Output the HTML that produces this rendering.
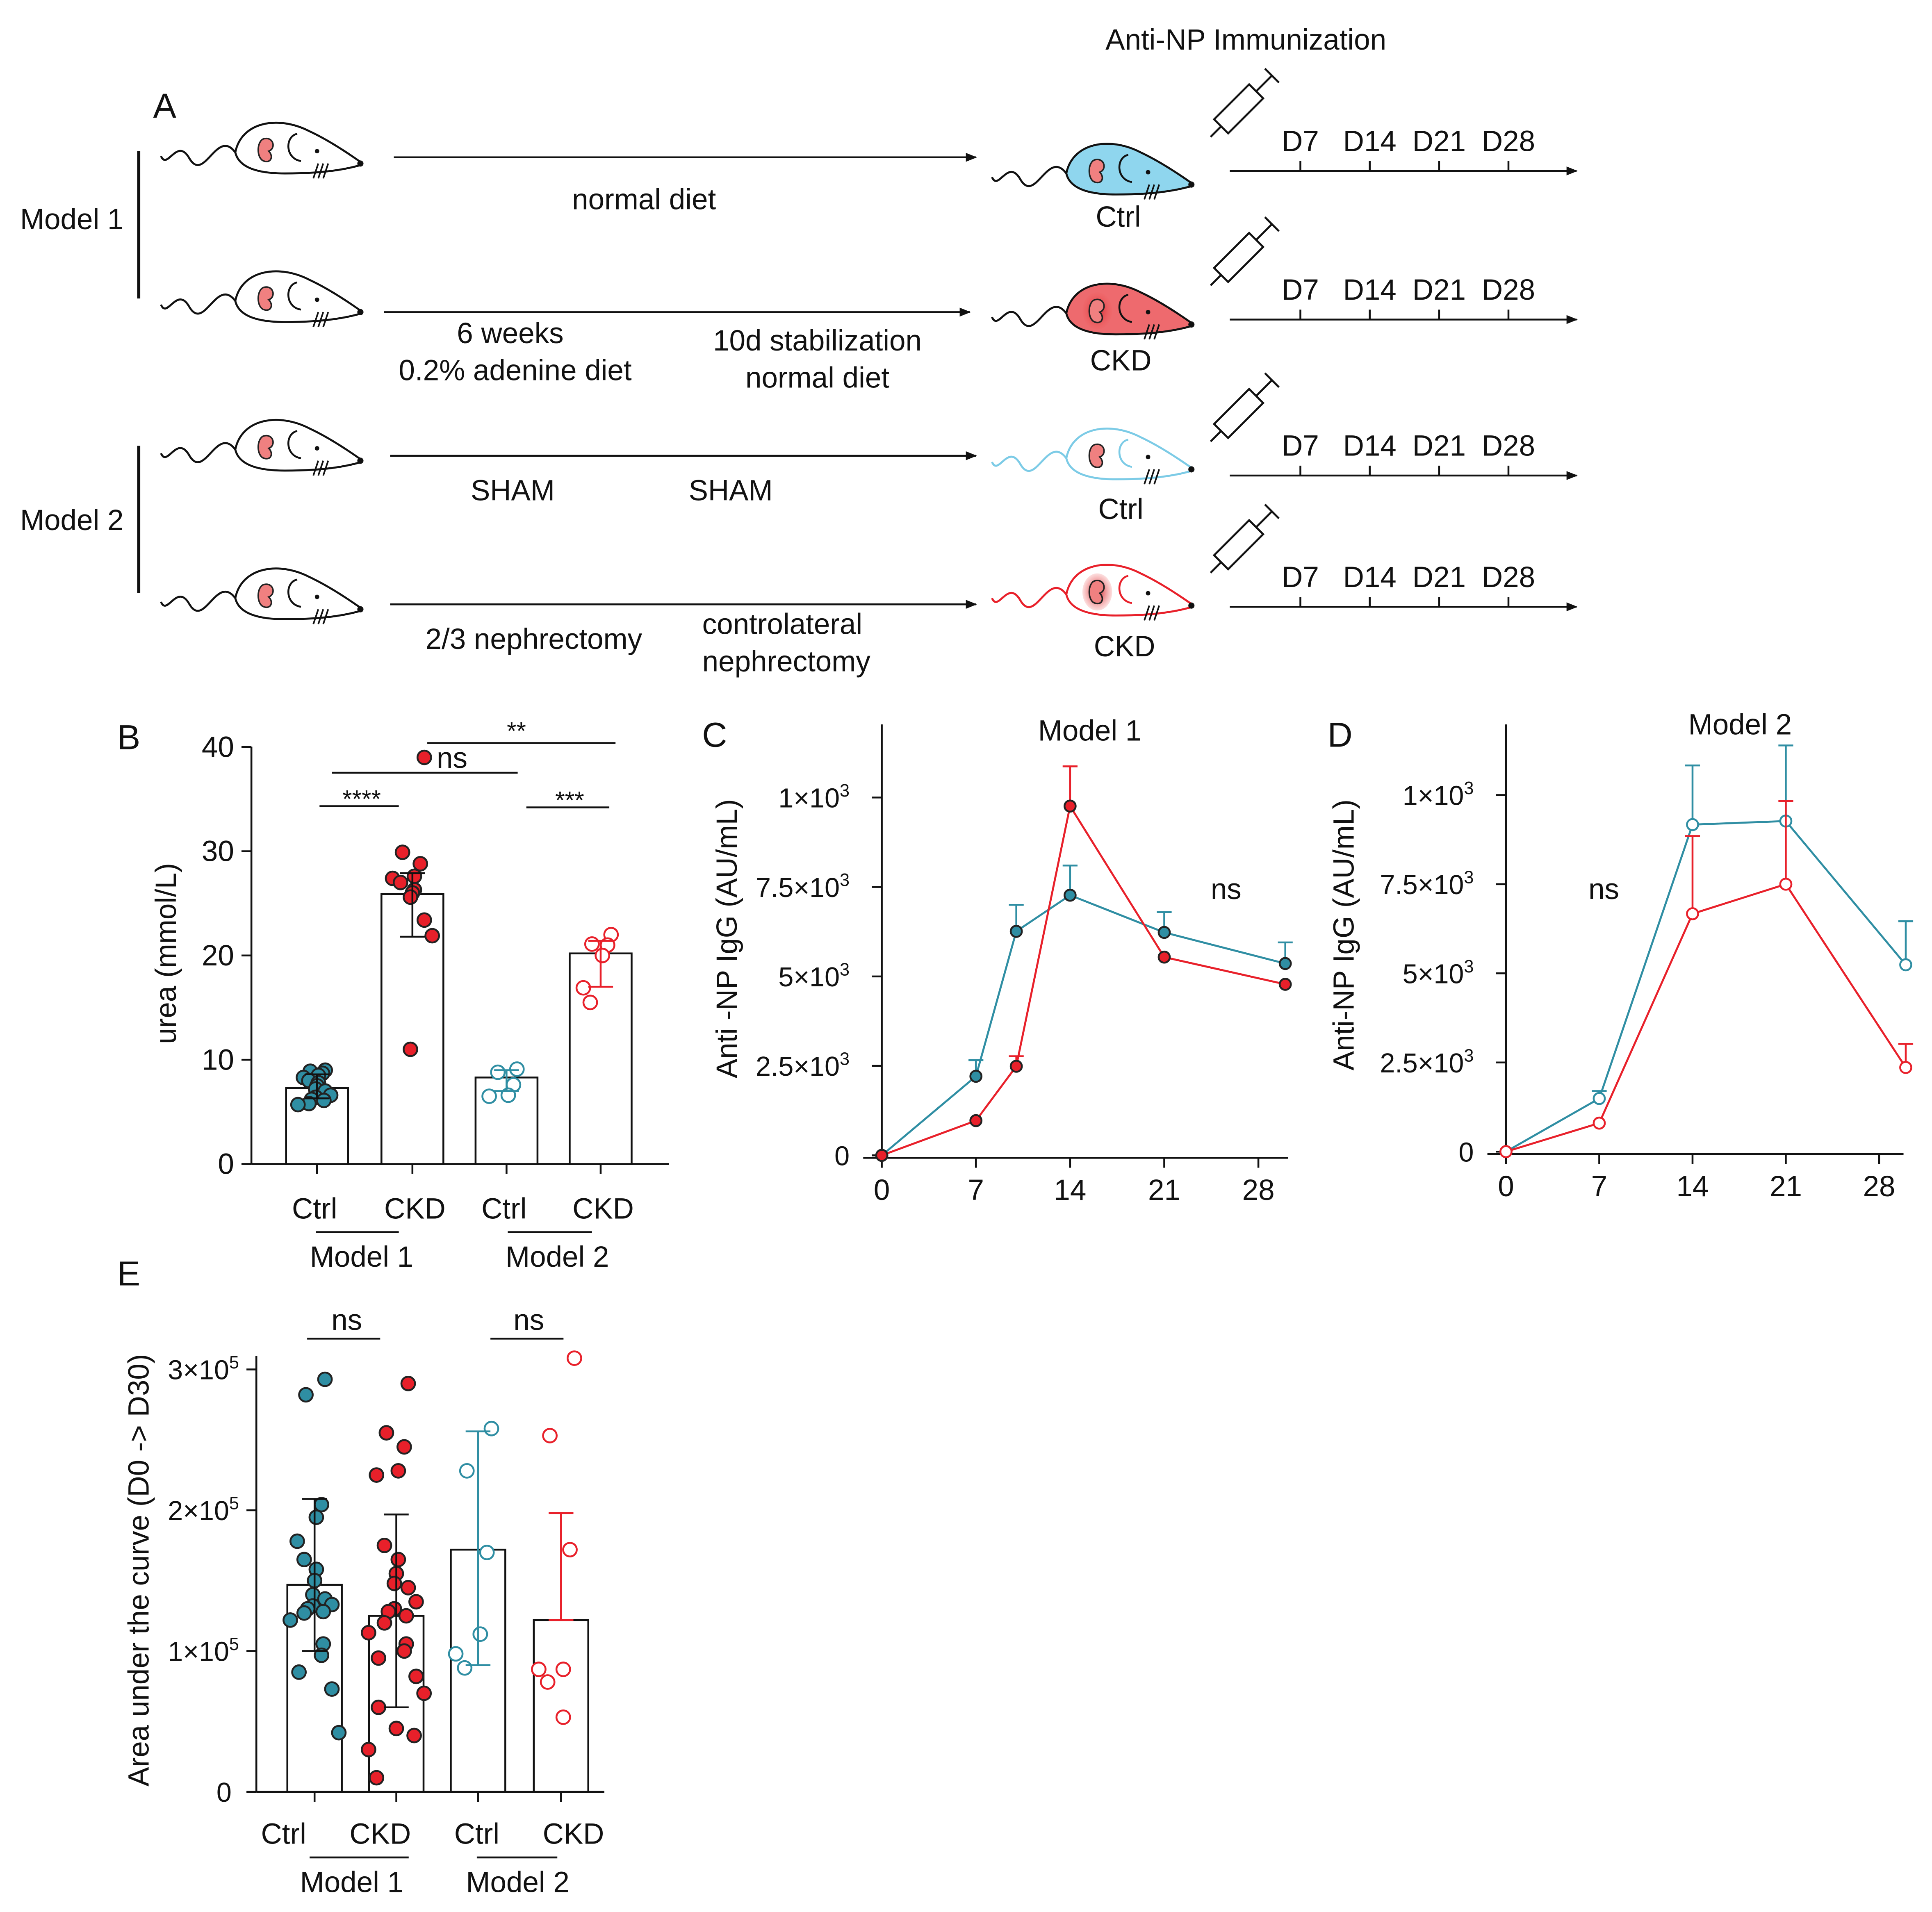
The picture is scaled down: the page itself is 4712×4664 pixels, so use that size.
<!DOCTYPE html>
<html><head><meta charset="utf-8">
<style>
html,body{margin:0;padding:0;background:#fff;}
svg{display:block;}
text{font-family:"Liberation Sans",Arial,sans-serif;fill:#111;}
</style></head>
<body>
<svg id="fig" width="4712" height="4664" viewBox="0 0 1560 1544" xmlns="http://www.w3.org/2000/svg">
<defs>
<marker id="arr" viewBox="0 0 10 10" refX="9" refY="5" markerWidth="9" markerHeight="9" orient="auto" markerUnits="userSpaceOnUse"><path d="M0,1 L10,5 L0,9 z" fill="#111"/></marker>
<radialGradient id="glow"><stop offset="0" stop-color="#d0202a"/><stop offset="1" stop-color="#f06060" stop-opacity="0.2"/></radialGradient>
</defs>
<g id="panelA"></g>
<g id="panelB"></g>
<g id="panelC"></g>
<g id="panelD"></g>
<g id="panelE"></g>
</svg>
<script>
// ===== Panel B data (urea mmol/L) =====
const bCats = ["Ctrl","CKD","Ctrl","CKD"];
const bMeans = [7.3, 25.9, 8.3, 20.2];
const bErrHi = [8.6, 27.9, 9.0, 21.4];
const bErrLo = [6.3, 21.8, 7.0, 17.0];
const bCtrl1 = [9.0,8.9,8.7,8.5,8.3,8.0,7.8,7.5,7.2,7.0,6.6,6.4,6.2,6.1,5.8,5.7];
const bCkd1 = [39,29.9,28.8,27.6,27.4,27.0,26.3,26.0,25.6,23.4,21.9,11.0];
const bCtrl2 = [9.1,8.8,7.6,6.6,6.5];
const bCkd2 = [22.0,21.1,21.0,20.0,16.9,15.5];
const bTicks = [0,10,20,30,40];
// ===== Panel C data (Model 1 anti-NP IgG, scaled so 1 = top tick) =====
const cDays = [0,7,10,14,21,30];
const cCtrl = [0,0.221,0.626,0.727,0.623,0.536];
const cCtrlErr = [0,0.266,0.70,0.81,0.68,0.595];
const cCkd = [0,0.097,0.249,0.976,0.554,0.478];
const cCkdErr = [0,0.097,0.277,1.087,0.554,0.478];
// ===== Panel D data (Model 2) =====
const dDays = [0,7,14,21,30];
const dCtrl = [0,0.149,0.917,0.927,0.524];
const dCtrlErr = [0,0.17,1.083,1.139,0.646];
const dCkd = [0,0.08,0.667,0.75,0.236];
const dCkdErr = [0,0.08,0.885,0.983,0.302];
const lineTickVals = [0,0.25,0.5,0.75,1];
const lineTickLabels = ["0","2.5×10³","5×10³","7.5×10³","1×10³"];
const dayTicks = [0,7,14,21,28];
// ===== Panel E data (AUC, ×1e5) =====
const eMeans = [1.47,1.25,1.72,1.22];
const eErrHi = [2.08,1.97,2.56,1.98];
const eErrLo = [1.0,0.6,0.9,1.22];
const eCtrl1 = [2.93,2.82,2.04,1.95,1.78,1.65,1.58,1.50,1.40,1.37,1.33,1.32,1.30,1.28,1.27,1.22,1.05,0.97,0.85,0.73,0.42];
const eCkd1 = [2.90,2.55,2.45,2.28,2.25,1.75,1.65,1.55,1.48,1.45,1.35,1.30,1.28,1.25,1.20,1.13,1.05,1.00,0.95,0.82,0.70,0.60,0.45,0.40,0.30,0.10];
const eCtrl2 = [2.58,2.28,1.70,1.12,0.98,0.88,1.12];
const eCkd2 = [3.08,2.53,1.72,0.87,0.87,0.78,0.53];
const eTicks = [0,1,2,3];

const NS="http://www.w3.org/2000/svg";
const TEAL="#2f8ea3", RED="#e8202a";
const FS=23.5;
function mk(tag,attrs,parent){const e=document.createElementNS(NS,tag);for(const k in attrs)e.setAttribute(k,attrs[k]);parent.appendChild(e);return e;}
function txt(s,x,y,parent,size,anchor,name){const t=mk("text",{x:x,y:y,"font-size":size||FS,"text-anchor":anchor||"middle"},parent);t.textContent=s;


return t;}
function ln(x1,y1,x2,y2,parent,w,col,name){const l=mk("line",{x1:x1,y1:y1,x2:x2,y2:y2,stroke:col||"#111","stroke-width":w||1.5},parent);


return l;}
function sup(base,exp,x,y,parent,size,anchor,name){const t=mk("text",{x:x,y:y,"font-size":size,"text-anchor":anchor},parent);


const a=mk("tspan",{},t);a.textContent=base;const b=mk("tspan",{"font-size":size*0.65,dy:-size*0.4},t);b.textContent=exp;return t;}

// ===== Panel A =====
const A=document.getElementById("panelA");
txt("A",133,95,A,28,"middle","panel-a-letter");
txt("Anti-NP Immunization",1006,40,A,FS,"middle","immunization-title");
txt("Model 1",58,185,A,FS,"middle","model1-label");
txt("Model 2",58,428,A,FS,"middle","model2-label");
ln(112,122,112,241,A,2.5,"#111","model1-bracket");
ln(112,360,112,479,A,2.5,"#111","model2-bracket");
function mouse(x,y,fill,stroke,glow,name){
  const g=mk("g",{transform:`translate(${x},${y})`},A);
  
  
  mk("path",{d:"M55,-5 C40,-25 30,20 18,0 C8,-18 0,10 -5,-2",fill:"none",stroke:stroke,"stroke-width":1.6},g);
  mk("path",{d:"M55,-5 C60,-30 90,-35 115,-22 C130,-15 145,-5 155,2 L157,5 C140,10 120,12 95,12 C75,12 58,8 55,-5 Z",fill:fill,stroke:stroke,"stroke-width":1.6},g);
  mk("path",{d:"M105,-20 C95,-18 95,0 108,2",fill:"none",stroke:stroke,"stroke-width":1.5},g);
  if(glow) mk("ellipse",{cx:80,cy:-7,rx:12,ry:15,fill:"url(#glow)"},g);
  mk("path",{d:"M78,-16 C86,-18 88,-8 82,-6 C86,-2 84,4 78,2 C72,0 72,-14 78,-16 Z",fill:"#f08080",stroke:"#222","stroke-width":1.2},g);
  mk("circle",{cx:121,cy:-6,r:1.8,fill:"#111"},g);
  mk("circle",{cx:156,cy:4,r:2.5,fill:"#111"},g);
  mk("path",{d:"M122,4 L118,16 M126,4 L122,16 M130,4 L126,16",stroke:"#111","stroke-width":1.3},g);
}
mouse(135,128,"#fff","#111",false,"mouse-model1-ctrl-start");
mouse(135,248,"#fff","#111",false,"mouse-model1-ckd-start");
mouse(135,368,"#fff","#111",false,"mouse-model2-ctrl-start");
mouse(135,488,"#fff","#111",false,"mouse-model2-ckd-start");
mouse(806,145,"#8fd6ee","#111",false,"mouse-model1-ctrl-end");
mouse(806,258,"#ee6a6e","#111",true,"mouse-model1-ckd-end");
mouse(806,375,"#fff","#7ccbe6",false,"mouse-model2-ctrl-end");
mouse(806,485,"#fff","#e8202a",true,"mouse-model2-ckd-end");
const arrows=[[318,127,788,127],[310,252,783,252],[315,368,788,368],[315,488,788,488]];
arrows.forEach((a,i)=>{const l=mk("line",{x1:a[0],y1:a[1],x2:a[2],y2:a[3],stroke:"#111","stroke-width":1.5,"marker-end":"url(#arr)"},A);

});
txt("normal diet",520,169,A,FS,"middle","normal-diet-label");
txt("6 weeks",412,277,A,FS,"middle","six-weeks-label");
txt("0.2% adenine diet",416,307,A,FS,"middle","adenine-diet-label");
txt("10d stabilization",660,283,A,FS,"middle","stabilization-label");
txt("normal diet",660,313,A,FS,"middle","normal-diet-label-2");
txt("SHAM",414,404,A,FS,"middle","sham-label-1");
txt("SHAM",590,404,A,FS,"middle","sham-label-2");
txt("2/3 nephrectomy",431,524,A,FS,"middle","nephrectomy-label");
txt("controlateral",567,512,A,FS,"start","controlateral-label");
txt("nephrectomy",567,542,A,FS,"start","nephrectomy-label-2");
txt("Ctrl",903,183,A,FS,"middle","ctrl-label-1");
txt("CKD",905,299,A,FS,"middle","ckd-label-1");
txt("Ctrl",905,419,A,FS,"middle","ctrl-label-2");
txt("CKD",908,530,A,FS,"middle","ckd-label-2");
[138,258,384,490].forEach((y,i)=>{
  const l=mk("line",{x1:993,y1:y,x2:1273,y2:y,stroke:"#111","stroke-width":1.5,"marker-end":"url(#arr)"},A);
  
  
  [["D7",1050],["D14",1106],["D21",1162],["D28",1218]].forEach(d=>{ln(d[1],y-8,d[1],y,A,1.5,"#111","timeline-tick");txt(d[0],d[1],y-16,A,FS,"middle","timeline-day-label");});
  const g=mk("g",{transform:`translate(${986},${y-36}) rotate(-45)`},A);
  
  
  mk("rect",{x:0,y:-8,width:40,height:16,fill:"#fff",stroke:"#111","stroke-width":1.6},g);
  mk("path",{d:"M-12,0 L0,0 M40,0 L58,0 M58,-8 L58,8",stroke:"#111","stroke-width":1.6,fill:"none"},g);
});

// ===== Panel B =====
const B=document.getElementById("panelB");
const bx0=203,by0=940,bPer=8.42,bCx=[256,333,409,485];
const byS=v=>by0-v*bPer;
txt("B",104,605,B,28,"middle","panel-b-letter");
ln(bx0,603,bx0,by0,B,1.5,"#111","y-axis");
ln(bx0,by0,540,by0,B,1.5,"#111","x-axis");
bTicks.forEach(t=>{ln(bx0-8,byS(t),bx0,byS(t),B,1.5,"#111","y-tick");txt(String(t),bx0-14,byS(t)+8,B,FS,"end","y-tick-label");});
bCx.forEach(c=>ln(c,by0,c,by0+8,B,1.5,"#111","x-tick"));
{const t=txt("urea (mmol/L)",0,0,B,FS,"middle","y-axis-title");t.setAttribute("transform",`translate(142,770) rotate(-90)`);}
bMeans.forEach((m,i)=>{const r=mk("rect",{x:bCx[i]-25,y:byS(m),width:50,height:by0-byS(m),fill:"#fff",stroke:"#111","stroke-width":1.5},B);

});
function dots(P,arr,cx,ys,col,filled,r,spread,name){arr.forEach((v,i)=>{const off=((i%5)-2)*spread*(i%2?1:-1)*0.5+((i*7)%3-1)*spread*0.4;
 const c=mk("circle",{cx:cx+off,cy:ys(v),r:r,fill:filled?col:"#fff",stroke:filled?"#222":col,"stroke-width":1.5},P);
 
 });}
function errb(P,cx,yl,yh,col,w){ln(cx,yl,cx,yh,P,1.5,col,"error-bar");ln(cx-w,yh,cx+w,yh,P,1.5,col,"error-cap");ln(cx-w,yl,cx+w,yl,P,1.5,col,"error-cap");}
dots(B,bCtrl1,bCx[0],byS,TEAL,true,5.5,11,"point-model1-ctrl");
dots(B,bCkd1,bCx[1],byS,RED,true,5.5,16,"point-model1-ckd");
dots(B,bCtrl2,bCx[2],byS,TEAL,false,5.5,14,"point-model2-ctrl");
dots(B,bCkd2,bCx[3],byS,RED,false,5.5,14,"point-model2-ckd");
const bCol=["#111","#111",TEAL,RED];
bMeans.forEach((m,i)=>errb(B,bCx[i],byS(bErrLo[i]),byS(bErrHi[i]),bCol[i],10));
bCats.forEach((c,i)=>txt(c,bCx[i]-(i%2?-2:2),984,B,FS,"middle","x-category-label"));
ln(255,995,322,995,B,1.5,"#111","model1-group-line");ln(410,995,478,995,B,1.5,"#111","model2-group-line");
txt("Model 1",292,1023,B,FS,"middle","model1-group-label");txt("Model 2",450,1023,B,FS,"middle","model2-group-label");
ln(258,651,322,651,B,1.5,"#111","sig-line");txt("****",292,652,B,20,"middle","sig-label");
ln(268,624,418,624,B,1.5,"#111","sig-line");txt("ns",365,620,B,FS,"middle","sig-label");
ln(345,600,497,600,B,1.5,"#111","sig-line");txt("**",417,597,B,20,"middle","sig-label");
ln(425,652,492,652,B,1.5,"#111","sig-line");txt("***",460,653,B,20,"middle","sig-label");

// ===== Line panels =====
function linePanel(P,x0,y0,per,dpx,xEnd,yTop,days,ctrl,ctrlE,ckd,ckdE,open,letter,lx,title,tx,ty,ytitle,ytx,nsx){
  const xs=d=>x0+d*dpx, ys=v=>y0-v*per;
  txt(letter,lx,603,P,28,"middle","panel-letter");
  txt(title,tx,ty,P,FS,"middle","chart-title");
  txt("ns",nsx,726,P,FS,"middle","ns-label");
  ln(x0,yTop,x0,y0,P,1.5,"#111","y-axis");
  ln(x0-15,y0+2,xEnd,y0+2,P,1.5,"#111","x-axis");
  lineTickVals.forEach((v,i)=>{ln(x0-8,ys(v),x0,ys(v),P,1.5,"#111","y-tick");
    const L=lineTickLabels[i];
    if(L.indexOf("³")>=0) sup(L.replace("³",""),"3",x0-26,ys(v)+8,P,22,"end","y-tick-label"); else txt(L,x0-26,ys(v)+8,P,22,"end","y-tick-label");});
  dayTicks.forEach(d=>{ln(xs(d),y0+2,xs(d),y0+10,P,1.5,"#111","x-tick");txt(String(d),xs(d),y0+36,P,FS,"middle","x-tick-label");});
  {const t=txt(ytitle,0,0,P,FS,"middle","y-axis-title");t.setAttribute("transform",`translate(${ytx},${y0-175}) rotate(-90)`);}
  [[ctrl,ctrlE,TEAL,"ctrl"],[ckd,ckdE,RED,"ckd"]].forEach(s=>{
    const [vals,errs,col,nm]=s;
    vals.forEach((v,i)=>{if(errs[i]>v+0.005){ln(xs(days[i]),ys(v),xs(days[i]),ys(errs[i]),P,1.5,col,"error-bar");ln(xs(days[i])-6,ys(errs[i]),xs(days[i])+6,ys(errs[i]),P,1.5,col,"error-cap");}});
    const pl=mk("polyline",{points:vals.map((v,i)=>xs(days[i])+","+ys(v)).join(" "),fill:"none",stroke:col,"stroke-width":1.6},P);
    
    
    vals.forEach((v,i)=>{const c=mk("circle",{cx:xs(days[i]),cy:ys(v),r:4.5,fill:open?"#fff":col,stroke:open?col:"#222","stroke-width":1.5},P);
      
      });
  });
}
linePanel(document.getElementById("panelC"),712,933,289,10.86,1040,585,cDays,cCtrl,cCtrlErr,cCkd,cCkdErr,false,"C",577,"Model 1",880,598,"Anti -NP IgG (AU/mL)",595,990);
linePanel(document.getElementById("panelD"),1216,930,288,10.76,1537,585,dDays,dCtrl,dCtrlErr,dCkd,dCkdErr,true,"D",1082,"Model 2",1405,593,"Anti-NP IgG (AU/mL)",1093,1295);

// ===== Panel E =====
const E=document.getElementById("panelE");
const ex0=207,ey0=1447,ePer=113.7,eCx=[254,320,386,453];
const eyS=v=>ey0-v*ePer;
txt("E",104,1038,E,28,"middle","panel-e-letter");
ln(ex0,1095,ex0,ey0,E,1.5,"#111","y-axis");ln(ex0,ey0,488,ey0,E,1.5,"#111","x-axis");
eTicks.forEach(t=>{ln(ex0-8,eyS(t),ex0,eyS(t),E,1.5,"#111","y-tick");
  if(t===0) txt("0",ex0-20,eyS(t)+8,E,22,"end","y-tick-label"); else sup(t+"×10","5",ex0-14,eyS(t)+8,E,22,"end","y-tick-label");});
eCx.forEach(c=>ln(c,ey0,c,ey0+8,E,1.5,"#111","x-tick"));
{const t=txt("Area under the curve (D0 -> D30)",0,0,E,FS,"middle","y-axis-title");t.setAttribute("transform",`translate(120,1268) rotate(-90)`);}
eMeans.forEach((m,i)=>{const r=mk("rect",{x:eCx[i]-22,y:eyS(m),width:44,height:ey0-eyS(m),fill:"#fff",stroke:"#111","stroke-width":1.5},E);

});
dots(E,eCtrl1,eCx[0],eyS,TEAL,true,5.5,14,"point-model1-ctrl");
dots(E,eCkd1,eCx[1],eyS,RED,true,5.5,16,"point-model1-ckd");
dots(E,eCtrl2,eCx[2],eyS,TEAL,false,5.5,18,"point-model2-ctrl");
dots(E,eCkd2,eCx[3],eyS,RED,false,5.5,18,"point-model2-ckd");
eMeans.forEach((m,i)=>errb(E,eCx[i],eyS(eErrLo[i]),eyS(eErrHi[i]),bCol[i],10));
bCats.forEach((c,i)=>txt(c,[229,307,385,463][i],1489,E,FS,"middle","x-category-label"));
ln(250,1500,330,1500,E,1.5,"#111","model1-group-line");ln(385,1500,450,1500,E,1.5,"#111","model2-group-line");
txt("Model 1",284,1528,E,FS,"middle","model1-group-label");txt("Model 2",418,1528,E,FS,"middle","model2-group-label");
ln(248,1081,307,1081,E,1.5,"#111","sig-line");txt("ns",280,1074,E,FS,"middle","sig-label");
ln(396,1081,455,1081,E,1.5,"#111","sig-line");txt("ns",427,1074,E,FS,"middle","sig-label");
</script>
</body></html>
